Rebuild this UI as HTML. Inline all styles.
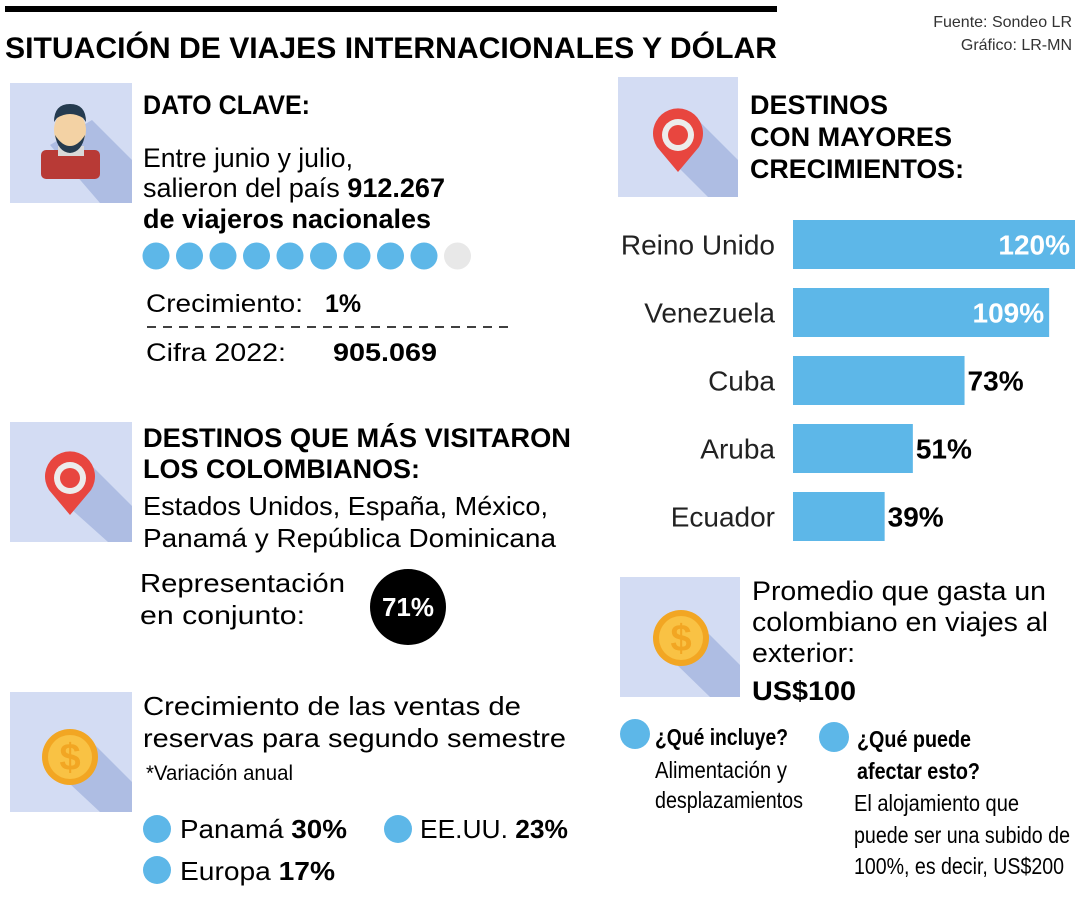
<!DOCTYPE html>
<html><head><meta charset="utf-8"><style>
html,body{margin:0;padding:0;background:#fff;}
svg{display:block;font-family:"Liberation Sans",sans-serif;}
.b{font-weight:bold;}
</style></head><body>
<svg id="chart" width="1080" height="900" viewBox="0 0 1080 900">
<defs>
<g id="pin">
  <path d="M0,37 L-21,12 A25,25 0 1 1 21,12 Z" fill="#e8463f"/>
  <circle r="16" fill="#ececec"/>
  <circle r="10" fill="#e8463f"/>
</g>
<g id="coin">
  <circle r="28" fill="#f2a623"/>
  <circle r="22" fill="#f9c244"/>
  <text y="13" text-anchor="middle" font-size="38" font-weight="bold" fill="#f2a623" font-family="Liberation Sans,sans-serif">$</text>
</g>
</defs>
<rect x="5" y="6" width="772" height="6" fill="#000"/>
<text x="5" y="58" font-size="30" class="b" textLength="772" lengthAdjust="spacingAndGlyphs">SITUACIÓN DE VIAJES INTERNACIONALES Y DÓLAR</text>
<text x="1072" y="27" font-size="16" text-anchor="end" fill="#333">Fuente: Sondeo LR</text>
<text x="1072" y="50" font-size="16" text-anchor="end" fill="#333">Gráfico: LR-MN</text>

<g>
  <rect x="10" y="83" width="122" height="120" fill="#d3dcf3"/>
  <polygon points="92,120 132,160 132,203 100,203 50,145" fill="#aebde3"/>
  <rect x="41" y="150" width="59" height="29" rx="5" fill="#b83a36"/>
  <rect x="58" y="146" width="26" height="10" fill="#d9d9d9"/>
  <ellipse cx="70" cy="130" rx="16" ry="20" fill="#f3d2a4"/>
  <path d="M54,122 Q54,104 70,104 Q86,104 86,122 L83,118 Q70,110 57,118 Z" fill="#253b4f"/>
  <path d="M55,135 Q58,152 70,153 Q82,152 85,135 Q78,146 70,146 Q62,146 55,135 Z" fill="#253b4f"/>
</g>
<text x="143" y="114" font-size="27" class="b" textLength="167" lengthAdjust="spacingAndGlyphs">DATO CLAVE:</text>
<text x="143" y="167" font-size="27" textLength="210" lengthAdjust="spacingAndGlyphs">Entre junio y julio,</text>
<text x="143" y="197" font-size="27" textLength="302" lengthAdjust="spacingAndGlyphs">salieron del país <tspan class="b">912.267</tspan></text>
<text x="143" y="228" font-size="27" class="b" textLength="288" lengthAdjust="spacingAndGlyphs">de viajeros nacionales</text>
<g id="dots"></g>
<text x="146" y="312" font-size="25" textLength="157" lengthAdjust="spacingAndGlyphs">Crecimiento:</text>
<text x="325" y="312" font-size="25" class="b">1%</text>
<line x1="147" y1="327" x2="508" y2="327" stroke="#000" stroke-width="1.5" stroke-dasharray="9,7"/>
<text x="146" y="361" font-size="25" textLength="140" lengthAdjust="spacingAndGlyphs">Cifra 2022:</text>
<text x="333" y="361" font-size="25" class="b" textLength="104" lengthAdjust="spacingAndGlyphs">905.069</text>

<g>
  <rect x="10" y="422" width="122" height="120" fill="#d3dcf3"/>
  <polygon points="88,462 132,506 132,542 108,542 70,508" fill="#aebde3"/>
  <use href="#pin" x="70" y="478"/>
</g>
<text x="143" y="447" font-size="27" class="b" textLength="428" lengthAdjust="spacingAndGlyphs">DESTINOS QUE MÁS VISITARON</text>
<text x="143" y="478" font-size="27" class="b" textLength="277" lengthAdjust="spacingAndGlyphs">LOS COLOMBIANOS:</text>
<text x="143" y="515" font-size="26" textLength="405" lengthAdjust="spacingAndGlyphs">Estados Unidos, España, México,</text>
<text x="143" y="547" font-size="26" textLength="413" lengthAdjust="spacingAndGlyphs">Panamá y República Dominicana</text>
<text x="140" y="592" font-size="26" textLength="205" lengthAdjust="spacingAndGlyphs">Representación</text>
<text x="140" y="624" font-size="26" textLength="165" lengthAdjust="spacingAndGlyphs">en conjunto:</text>
<circle cx="408" cy="607" r="38" fill="#000"/>
<text x="408" y="616" font-size="26" class="b" fill="#fff" text-anchor="middle">71%</text>

<g>
  <rect x="10" y="692" width="122" height="120" fill="#d3dcf3"/>
  <polygon points="90,740 132,782 132,812 100,812 55,770" fill="#aebde3"/>
  <use href="#coin" x="70" y="757"/>
</g>
<text x="143" y="715" font-size="26" textLength="378" lengthAdjust="spacingAndGlyphs">Crecimiento de las ventas de</text>
<text x="143" y="747" font-size="26" textLength="423" lengthAdjust="spacingAndGlyphs">reservas para segundo semestre</text>
<text x="146" y="780" font-size="21" textLength="147" lengthAdjust="spacingAndGlyphs">*Variación anual</text>
<circle cx="157" cy="829" r="14" fill="#5db7e8"/>
<text x="180" y="838" font-size="26" textLength="167" lengthAdjust="spacingAndGlyphs">Panamá <tspan class="b">30%</tspan></text>
<circle cx="398" cy="829" r="14" fill="#5db7e8"/>
<text x="420" y="838" font-size="26" textLength="148" lengthAdjust="spacingAndGlyphs">EE.UU. <tspan class="b">23%</tspan></text>
<circle cx="157" cy="870" r="14" fill="#5db7e8"/>
<text x="180" y="880" font-size="26" textLength="155" lengthAdjust="spacingAndGlyphs">Europa <tspan class="b">17%</tspan></text>

<g>
  <rect x="618" y="77" width="120" height="120" fill="#d3dcf3"/>
  <polygon points="696,118 738,160 738,197 708,197 678,167" fill="#aebde3"/>
  <use href="#pin" x="678" y="135"/>
</g>
<text x="750" y="114" font-size="27" class="b" textLength="138" lengthAdjust="spacingAndGlyphs">DESTINOS</text>
<text x="750" y="146" font-size="27" class="b" textLength="202" lengthAdjust="spacingAndGlyphs">CON MAYORES</text>
<text x="750" y="178" font-size="27" class="b" textLength="214" lengthAdjust="spacingAndGlyphs">CRECIMIENTOS:</text>
<g id="bars"></g>

<g>
  <rect x="620" y="577" width="120" height="120" fill="#d3dcf3"/>
  <polygon points="700,625 740,665 740,697 710,697 672,660" fill="#aebde3"/>
  <use href="#coin" x="681" y="638"/>
</g>
<text x="752" y="600" font-size="27" textLength="294" lengthAdjust="spacingAndGlyphs">Promedio que gasta un</text>
<text x="752" y="631" font-size="27" textLength="296" lengthAdjust="spacingAndGlyphs">colombiano en viajes al</text>
<text x="752" y="662" font-size="27" textLength="103" lengthAdjust="spacingAndGlyphs">exterior:</text>
<text x="752" y="700" font-size="27" class="b" textLength="104" lengthAdjust="spacingAndGlyphs">US$100</text>
<circle cx="635" cy="734" r="15" fill="#5db7e8"/>
<text x="655" y="745" font-size="23" class="b" textLength="133" lengthAdjust="spacingAndGlyphs">¿Qué incluye?</text>
<text x="655" y="778" font-size="23" textLength="132" lengthAdjust="spacingAndGlyphs">Alimentación y</text>
<text x="655" y="808" font-size="23" textLength="148" lengthAdjust="spacingAndGlyphs">desplazamientos</text>
<circle cx="834" cy="737" r="15" fill="#5db7e8"/>
<text x="857" y="747" font-size="23" class="b" textLength="114" lengthAdjust="spacingAndGlyphs">¿Qué puede</text>
<text x="857" y="779" font-size="23" class="b" textLength="123" lengthAdjust="spacingAndGlyphs">afectar esto?</text>
<text x="854" y="811" font-size="23" textLength="165" lengthAdjust="spacingAndGlyphs">El alojamiento que</text>
<text x="854" y="843" font-size="23" textLength="216" lengthAdjust="spacingAndGlyphs">puede ser una subido de</text>
<text x="854" y="874" font-size="23" textLength="210" lengthAdjust="spacingAndGlyphs">100%, es decir, US$200</text>
</svg>
<script>
const categories = ["Reino Unido", "Venezuela", "Cuba", "Aruba", "Ecuador"];
const growthValues = [120, 109, 73, 51, 39];
const valueLabels = ["120%", "109%", "73%", "51%", "39%"];
const dotTotal = 10;
const dotFilled = 9;

const NS = "http://www.w3.org/2000/svg";
const x0 = 793, pxPerUnit = 2.35, barTop = 220, barStep = 68, barH = 49;
const xScale = v => v * pxPerUnit;
const yScale = i => barTop + i * barStep;
const bars = document.getElementById("bars");
function mk(tag, attrs, parent) {
  const e = document.createElementNS(NS, tag);
  for (const k in attrs) e.setAttribute(k, attrs[k]);
  parent.appendChild(e);
  return e;
}
categories.forEach((c, i) => {
  const y = yScale(i), w = xScale(growthValues[i]);
  const r = mk("rect", {x: x0, y: y, width: w, height: barH, fill: "#5db7e8"}, bars);
  
  
  const lab = mk("text", {x: 775, y: y + barH / 2 + 10, "font-size": 28, "text-anchor": "end", fill: "#222"}, bars);
  
  
  lab.textContent = c;
  const inside = w > 200;
  const v = mk("text", {x: inside ? x0 + w - 5 : x0 + w + 3, y: y + barH / 2 + 10, "font-size": 28, "font-weight": "bold", "text-anchor": inside ? "end" : "start", fill: inside ? "#fff" : "#000"}, bars);
  
  
  v.textContent = valueLabels[i];
});
const dots = document.getElementById("dots");
for (let i = 0; i < dotTotal; i++) {
  const d = mk("circle", {cx: 156 + i * 33.5, cy: 256, r: 13.5, fill: i < dotFilled ? "#5db7e8" : "#e8e8e8"}, dots);
  
  
}
</script>
</body></html>
